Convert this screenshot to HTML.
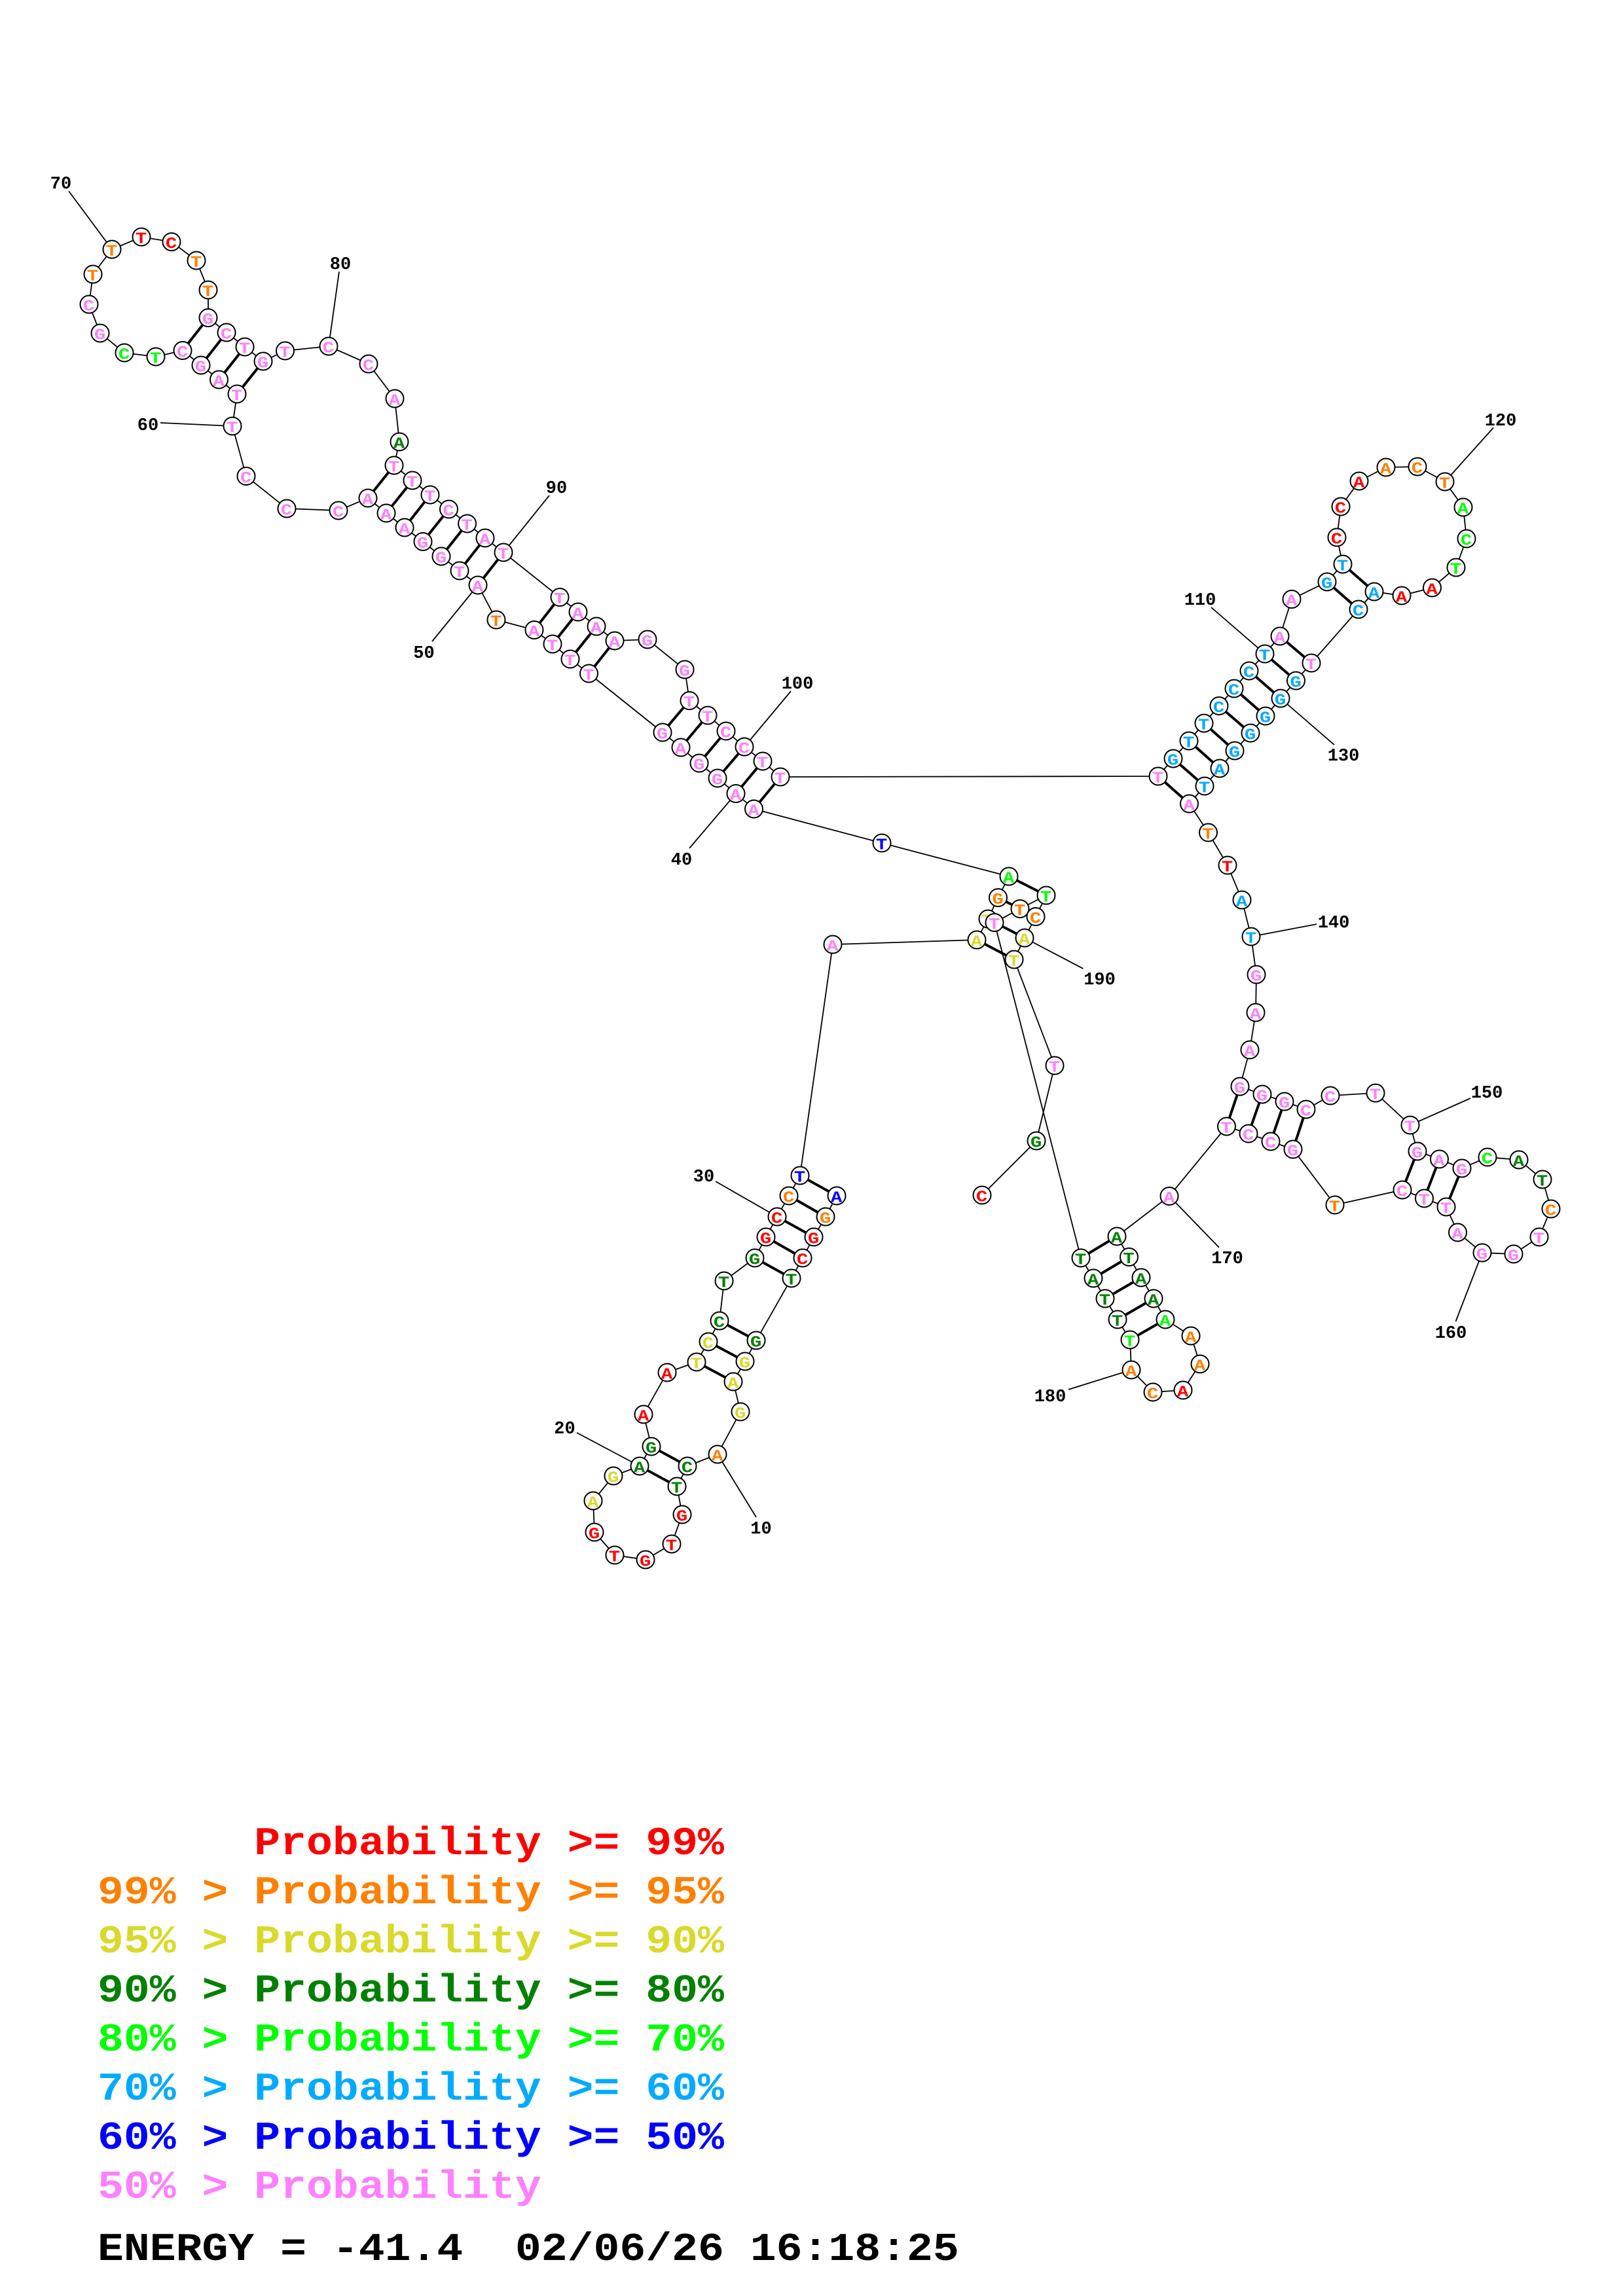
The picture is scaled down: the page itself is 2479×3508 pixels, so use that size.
<!DOCTYPE html>
<html><head><meta charset="utf-8"><style>
html,body{margin:0;padding:0;background:#fff}
svg{display:block}
.n circle{fill:#fff;stroke:#000;stroke-width:2}
.n text{font:bold 24.5px "Liberation Mono",monospace;text-anchor:middle;transform:translate(-.5px,9.5px) scale(1.18,1)}
.l{font:bold 27px "Liberation Mono",monospace;text-anchor:middle}
.k{font:bold 60px "Liberation Mono",monospace;white-space:pre}
.r{fill:#f00}.o{fill:#ff8000}.y{fill:#d9d92b}.d{fill:#008000}.g{fill:#0f0}.s{fill:#0af}.b{fill:#00f}.p{fill:#ff80ff}
</style></head><body>
<svg xmlns="http://www.w3.org/2000/svg" width="2479" height="3508" viewBox="0 0 2479 3508">
<rect width="2479" height="3508" fill="#fff"/>
<polyline fill="none" stroke="#000" stroke-width="1.8" points="1278,1827 1261,1859 1243,1890 1226,1922 1209,1953 1155,2048 1138,2080 1120,2111 1131,2157 1096,2222 1050,2240 1034,2271 1042,2314 1026,2359 986,2383 939,2376 908,2341 906,2293 937,2255 977,2240 995,2210 983,2161 1019,2097 1064,2081 1082,2050 1099,2018 1106,1957 1153,1922 1170,1890 1187,1859 1205,1827 1222,1796 1272,1443 1492,1436 1509,1404 1524.5,1371.5 1541,1339 1347,1288 1151.5,1236 1124,1212.5 1096,1189 1068,1166 1040,1142 1012,1119 899.5,1029 871,1007 844,984 816,962.5 758,947 730,894 702,872 674,850 646,827.5 618,806 590,784 562,761 517,780 438,777 376,727.5 355,651 362,602 334.5,580 307,558 279,535.5 238,545 190,539 153,509 136,465 142,419 171,381 216,362 262,369.5 300,398 318,443 318,485.5 346,508 374,530 402,552 435.5,536 502,529 563,556 603,609 610,675 602,711 630,734 657,756 685.5,778 713.6,800 741,822 769,844 855,912.5 883,935 911,957 939,979 989,977 1046,1023 1053,1070.5 1081,1093 1109,1117 1137,1141 1165,1163 1192,1187 1769,1186 1792,1159 1816,1132 1839,1105 1862,1078.5 1885,1052 1908,1025 1932,999 1955,972 1973,915.5 2027,889 2051,862 2042,821 2048,774 2076,735 2117,714 2165,713 2207,736 2235,775 2240,823 2224,867 2187.5,898 2141,910 2099,904 2075,931 2003,1013 1979.5,1040 1956,1067 1933,1094 1910,1120 1886,1147 1863,1174 1840,1201 1816.5,1228 1845.5,1272 1875,1322 1897,1375 1911,1431 1919,1489 1918,1547 1909,1604 1894,1660 1928,1672 1962,1683 1995,1695 2032,1674 2101,1670 2154,1719 2165,1759 2198.5,1771 2233,1785 2272,1768 2320,1772 2356,1802 2369,1847 2351,1890 2312,1916 2264,1914 2226.5,1883 2209,1844 2175.5,1831 2142,1818 2039,1841 1975,1756 1941,1744 1907,1732 1873.5,1721 1786,1827.5 1706,1889 1724.5,1920.5 1743,1952 1762,1984 1780,2016 1819,2041 1833,2084 1807,2124 1761,2127 1728,2093 1726,2047 1707,2016 1688,1984 1670,1953 1651,1922 1519,1409.5 1558,1388.5 1598,1368 1582,1400.5 1565,1433 1549,1466 1611,1628 1583,1743 1500,1826"/>
<path fill="none" stroke="#000" stroke-width="1.8" d="M1096,2222L1155,2318M977,2240L881,2189M1187,1859L1093,1805M1124,1212.5L1053,1296M730,894L660,980M355,651L245,646M171,381L105,292M502,529L518,415M769,844L839,757M1137,1141L1208,1056M1932,999L1850,928M2207,736L2281,653.5M1956,1067L2038,1138M1911,1431L2011,1412M2154,1719L2246,1678M2264,1914L2223.5,2019M1786,1827.5L1862,1906M1728,2093L1632,2123M1565,1433L1654.5,1480"/>
<path fill="none" stroke="#000" stroke-width="4" d="M1278,1827L1222,1796M1261,1859L1205,1827M1243,1890L1187,1859M1226,1922L1170,1890M1209,1953L1153,1922M1155,2048L1099,2018M1138,2080L1082,2050M1120,2111L1064,2081M1050,2240L995,2210M1034,2271L977,2240M1492,1436L1549,1466M1509,1404L1565,1433M1524.5,1371.5L1582,1400.5M1541,1339L1598,1368M1151.5,1236L1192,1187M1124,1212.5L1165,1163M1096,1189L1137,1141M1068,1166L1109,1117M1040,1142L1081,1093M1012,1119L1053,1070.5M899.5,1029L939,979M871,1007L911,957M844,984L883,935M816,962.5L855,912.5M730,894L769,844M702,872L741,822M674,850L713.6,800M646,827.5L685.5,778M618,806L657,756M590,784L630,734M562,761L602,711M362,602L402,552M334.5,580L374,530M307,558L346,508M279,535.5L318,485.5M1769,1186L1816.5,1228M1792,1159L1840,1201M1816,1132L1863,1174M1839,1105L1886,1147M1862,1078.5L1910,1120M1885,1052L1933,1094M1908,1025L1956,1067M1932,999L1979.5,1040M1955,972L2003,1013M2027,889L2075,931M2051,862L2099,904M1894,1660L1873.5,1721M1928,1672L1907,1732M1962,1683L1941,1744M1995,1695L1975,1756M2165,1759L2142,1818M2198.5,1771L2175.5,1831M2233,1785L2209,1844M1706,1889L1651,1922M1724.5,1920.5L1670,1953M1743,1952L1688,1984M1762,1984L1707,2016M1780,2016L1726,2047"/>
<g class="n">
<g class="b" transform="translate(1278,1827)"><circle r="13.5"/><text>A</text></g>
<g class="o" transform="translate(1261,1859)"><circle r="13.5"/><text>G</text></g>
<g class="r" transform="translate(1243,1890)"><circle r="13.5"/><text>G</text></g>
<g class="r" transform="translate(1226,1922)"><circle r="13.5"/><text>C</text></g>
<g class="d" transform="translate(1209,1953)"><circle r="13.5"/><text>T</text></g>
<g class="d" transform="translate(1155,2048)"><circle r="13.5"/><text>G</text></g>
<g class="y" transform="translate(1138,2080)"><circle r="13.5"/><text>G</text></g>
<g class="y" transform="translate(1120,2111)"><circle r="13.5"/><text>A</text></g>
<g class="y" transform="translate(1131,2157)"><circle r="13.5"/><text>G</text></g>
<g class="o" transform="translate(1096,2222)"><circle r="13.5"/><text>A</text></g>
<g class="d" transform="translate(1050,2240)"><circle r="13.5"/><text>C</text></g>
<g class="d" transform="translate(1034,2271)"><circle r="13.5"/><text>T</text></g>
<g class="r" transform="translate(1042,2314)"><circle r="13.5"/><text>G</text></g>
<g class="r" transform="translate(1026,2359)"><circle r="13.5"/><text>T</text></g>
<g class="r" transform="translate(986,2383)"><circle r="13.5"/><text>G</text></g>
<g class="r" transform="translate(939,2376)"><circle r="13.5"/><text>T</text></g>
<g class="r" transform="translate(908,2341)"><circle r="13.5"/><text>G</text></g>
<g class="y" transform="translate(906,2293)"><circle r="13.5"/><text>A</text></g>
<g class="y" transform="translate(937,2255)"><circle r="13.5"/><text>G</text></g>
<g class="d" transform="translate(977,2240)"><circle r="13.5"/><text>A</text></g>
<g class="d" transform="translate(995,2210)"><circle r="13.5"/><text>G</text></g>
<g class="r" transform="translate(983,2161)"><circle r="13.5"/><text>A</text></g>
<g class="r" transform="translate(1019,2097)"><circle r="13.5"/><text>A</text></g>
<g class="y" transform="translate(1064,2081)"><circle r="13.5"/><text>T</text></g>
<g class="y" transform="translate(1082,2050)"><circle r="13.5"/><text>C</text></g>
<g class="d" transform="translate(1099,2018)"><circle r="13.5"/><text>C</text></g>
<g class="d" transform="translate(1106,1957)"><circle r="13.5"/><text>T</text></g>
<g class="d" transform="translate(1153,1922)"><circle r="13.5"/><text>G</text></g>
<g class="r" transform="translate(1170,1890)"><circle r="13.5"/><text>G</text></g>
<g class="r" transform="translate(1187,1859)"><circle r="13.5"/><text>C</text></g>
<g class="o" transform="translate(1205,1827)"><circle r="13.5"/><text>C</text></g>
<g class="b" transform="translate(1222,1796)"><circle r="13.5"/><text>T</text></g>
<g class="p" transform="translate(1272,1443)"><circle r="13.5"/><text>A</text></g>
<g class="y" transform="translate(1492,1436)"><circle r="13.5"/><text>A</text></g>
<g class="y" transform="translate(1509,1404)"><circle r="13.5"/><text>T</text></g>
<g class="o" transform="translate(1524.5,1371.5)"><circle r="13.5"/><text>G</text></g>
<g class="g" transform="translate(1541,1339)"><circle r="13.5"/><text>A</text></g>
<g class="b" transform="translate(1347,1288)"><circle r="13.5"/><text>T</text></g>
<g class="p" transform="translate(1151.5,1236)"><circle r="13.5"/><text>A</text></g>
<g class="p" transform="translate(1124,1212.5)"><circle r="13.5"/><text>A</text></g>
<g class="p" transform="translate(1096,1189)"><circle r="13.5"/><text>G</text></g>
<g class="p" transform="translate(1068,1166)"><circle r="13.5"/><text>G</text></g>
<g class="p" transform="translate(1040,1142)"><circle r="13.5"/><text>A</text></g>
<g class="p" transform="translate(1012,1119)"><circle r="13.5"/><text>G</text></g>
<g class="p" transform="translate(899.5,1029)"><circle r="13.5"/><text>T</text></g>
<g class="p" transform="translate(871,1007)"><circle r="13.5"/><text>T</text></g>
<g class="p" transform="translate(844,984)"><circle r="13.5"/><text>T</text></g>
<g class="p" transform="translate(816,962.5)"><circle r="13.5"/><text>A</text></g>
<g class="o" transform="translate(758,947)"><circle r="13.5"/><text>T</text></g>
<g class="p" transform="translate(730,894)"><circle r="13.5"/><text>A</text></g>
<g class="p" transform="translate(702,872)"><circle r="13.5"/><text>T</text></g>
<g class="p" transform="translate(674,850)"><circle r="13.5"/><text>G</text></g>
<g class="p" transform="translate(646,827.5)"><circle r="13.5"/><text>G</text></g>
<g class="p" transform="translate(618,806)"><circle r="13.5"/><text>A</text></g>
<g class="p" transform="translate(590,784)"><circle r="13.5"/><text>A</text></g>
<g class="p" transform="translate(562,761)"><circle r="13.5"/><text>A</text></g>
<g class="p" transform="translate(517,780)"><circle r="13.5"/><text>C</text></g>
<g class="p" transform="translate(438,777)"><circle r="13.5"/><text>C</text></g>
<g class="p" transform="translate(376,727.5)"><circle r="13.5"/><text>C</text></g>
<g class="p" transform="translate(355,651)"><circle r="13.5"/><text>T</text></g>
<g class="p" transform="translate(362,602)"><circle r="13.5"/><text>T</text></g>
<g class="p" transform="translate(334.5,580)"><circle r="13.5"/><text>A</text></g>
<g class="p" transform="translate(307,558)"><circle r="13.5"/><text>G</text></g>
<g class="p" transform="translate(279,535.5)"><circle r="13.5"/><text>C</text></g>
<g class="g" transform="translate(238,545)"><circle r="13.5"/><text>T</text></g>
<g class="g" transform="translate(190,539)"><circle r="13.5"/><text>C</text></g>
<g class="p" transform="translate(153,509)"><circle r="13.5"/><text>G</text></g>
<g class="p" transform="translate(136,465)"><circle r="13.5"/><text>C</text></g>
<g class="o" transform="translate(142,419)"><circle r="13.5"/><text>T</text></g>
<g class="o" transform="translate(171,381)"><circle r="13.5"/><text>T</text></g>
<g class="r" transform="translate(216,362)"><circle r="13.5"/><text>T</text></g>
<g class="r" transform="translate(262,369.5)"><circle r="13.5"/><text>C</text></g>
<g class="o" transform="translate(300,398)"><circle r="13.5"/><text>T</text></g>
<g class="o" transform="translate(318,443)"><circle r="13.5"/><text>T</text></g>
<g class="p" transform="translate(318,485.5)"><circle r="13.5"/><text>G</text></g>
<g class="p" transform="translate(346,508)"><circle r="13.5"/><text>C</text></g>
<g class="p" transform="translate(374,530)"><circle r="13.5"/><text>T</text></g>
<g class="p" transform="translate(402,552)"><circle r="13.5"/><text>G</text></g>
<g class="p" transform="translate(435.5,536)"><circle r="13.5"/><text>T</text></g>
<g class="p" transform="translate(502,529)"><circle r="13.5"/><text>C</text></g>
<g class="p" transform="translate(563,556)"><circle r="13.5"/><text>C</text></g>
<g class="p" transform="translate(603,609)"><circle r="13.5"/><text>A</text></g>
<g class="d" transform="translate(610,675)"><circle r="13.5"/><text>A</text></g>
<g class="p" transform="translate(602,711)"><circle r="13.5"/><text>T</text></g>
<g class="p" transform="translate(630,734)"><circle r="13.5"/><text>T</text></g>
<g class="p" transform="translate(657,756)"><circle r="13.5"/><text>T</text></g>
<g class="p" transform="translate(685.5,778)"><circle r="13.5"/><text>C</text></g>
<g class="p" transform="translate(713.6,800)"><circle r="13.5"/><text>T</text></g>
<g class="p" transform="translate(741,822)"><circle r="13.5"/><text>A</text></g>
<g class="p" transform="translate(769,844)"><circle r="13.5"/><text>T</text></g>
<g class="p" transform="translate(855,912.5)"><circle r="13.5"/><text>T</text></g>
<g class="p" transform="translate(883,935)"><circle r="13.5"/><text>A</text></g>
<g class="p" transform="translate(911,957)"><circle r="13.5"/><text>A</text></g>
<g class="p" transform="translate(939,979)"><circle r="13.5"/><text>A</text></g>
<g class="p" transform="translate(989,977)"><circle r="13.5"/><text>G</text></g>
<g class="p" transform="translate(1046,1023)"><circle r="13.5"/><text>G</text></g>
<g class="p" transform="translate(1053,1070.5)"><circle r="13.5"/><text>T</text></g>
<g class="p" transform="translate(1081,1093)"><circle r="13.5"/><text>T</text></g>
<g class="p" transform="translate(1109,1117)"><circle r="13.5"/><text>C</text></g>
<g class="p" transform="translate(1137,1141)"><circle r="13.5"/><text>C</text></g>
<g class="p" transform="translate(1165,1163)"><circle r="13.5"/><text>T</text></g>
<g class="p" transform="translate(1192,1187)"><circle r="13.5"/><text>T</text></g>
<g class="p" transform="translate(1769,1186)"><circle r="13.5"/><text>T</text></g>
<g class="s" transform="translate(1792,1159)"><circle r="13.5"/><text>G</text></g>
<g class="s" transform="translate(1816,1132)"><circle r="13.5"/><text>T</text></g>
<g class="s" transform="translate(1839,1105)"><circle r="13.5"/><text>T</text></g>
<g class="s" transform="translate(1862,1078.5)"><circle r="13.5"/><text>C</text></g>
<g class="s" transform="translate(1885,1052)"><circle r="13.5"/><text>C</text></g>
<g class="s" transform="translate(1908,1025)"><circle r="13.5"/><text>C</text></g>
<g class="s" transform="translate(1932,999)"><circle r="13.5"/><text>T</text></g>
<g class="p" transform="translate(1955,972)"><circle r="13.5"/><text>A</text></g>
<g class="p" transform="translate(1973,915.5)"><circle r="13.5"/><text>A</text></g>
<g class="s" transform="translate(2027,889)"><circle r="13.5"/><text>G</text></g>
<g class="s" transform="translate(2051,862)"><circle r="13.5"/><text>T</text></g>
<g class="r" transform="translate(2042,821)"><circle r="13.5"/><text>C</text></g>
<g class="r" transform="translate(2048,774)"><circle r="13.5"/><text>C</text></g>
<g class="r" transform="translate(2076,735)"><circle r="13.5"/><text>A</text></g>
<g class="o" transform="translate(2117,714)"><circle r="13.5"/><text>A</text></g>
<g class="o" transform="translate(2165,713)"><circle r="13.5"/><text>C</text></g>
<g class="o" transform="translate(2207,736)"><circle r="13.5"/><text>T</text></g>
<g class="g" transform="translate(2235,775)"><circle r="13.5"/><text>A</text></g>
<g class="g" transform="translate(2240,823)"><circle r="13.5"/><text>C</text></g>
<g class="g" transform="translate(2224,867)"><circle r="13.5"/><text>T</text></g>
<g class="r" transform="translate(2187.5,898)"><circle r="13.5"/><text>A</text></g>
<g class="r" transform="translate(2141,910)"><circle r="13.5"/><text>A</text></g>
<g class="s" transform="translate(2099,904)"><circle r="13.5"/><text>A</text></g>
<g class="s" transform="translate(2075,931)"><circle r="13.5"/><text>C</text></g>
<g class="p" transform="translate(2003,1013)"><circle r="13.5"/><text>T</text></g>
<g class="s" transform="translate(1979.5,1040)"><circle r="13.5"/><text>G</text></g>
<g class="s" transform="translate(1956,1067)"><circle r="13.5"/><text>G</text></g>
<g class="s" transform="translate(1933,1094)"><circle r="13.5"/><text>G</text></g>
<g class="s" transform="translate(1910,1120)"><circle r="13.5"/><text>G</text></g>
<g class="s" transform="translate(1886,1147)"><circle r="13.5"/><text>G</text></g>
<g class="s" transform="translate(1863,1174)"><circle r="13.5"/><text>A</text></g>
<g class="s" transform="translate(1840,1201)"><circle r="13.5"/><text>T</text></g>
<g class="p" transform="translate(1816.5,1228)"><circle r="13.5"/><text>A</text></g>
<g class="o" transform="translate(1845.5,1272)"><circle r="13.5"/><text>T</text></g>
<g class="r" transform="translate(1875,1322)"><circle r="13.5"/><text>T</text></g>
<g class="s" transform="translate(1897,1375)"><circle r="13.5"/><text>A</text></g>
<g class="s" transform="translate(1911,1431)"><circle r="13.5"/><text>T</text></g>
<g class="p" transform="translate(1919,1489)"><circle r="13.5"/><text>G</text></g>
<g class="p" transform="translate(1918,1547)"><circle r="13.5"/><text>A</text></g>
<g class="p" transform="translate(1909,1604)"><circle r="13.5"/><text>A</text></g>
<g class="p" transform="translate(1894,1660)"><circle r="13.5"/><text>G</text></g>
<g class="p" transform="translate(1928,1672)"><circle r="13.5"/><text>G</text></g>
<g class="p" transform="translate(1962,1683)"><circle r="13.5"/><text>G</text></g>
<g class="p" transform="translate(1995,1695)"><circle r="13.5"/><text>C</text></g>
<g class="p" transform="translate(2032,1674)"><circle r="13.5"/><text>C</text></g>
<g class="p" transform="translate(2101,1670)"><circle r="13.5"/><text>T</text></g>
<g class="p" transform="translate(2154,1719)"><circle r="13.5"/><text>T</text></g>
<g class="p" transform="translate(2165,1759)"><circle r="13.5"/><text>G</text></g>
<g class="p" transform="translate(2198.5,1771)"><circle r="13.5"/><text>A</text></g>
<g class="p" transform="translate(2233,1785)"><circle r="13.5"/><text>G</text></g>
<g class="g" transform="translate(2272,1768)"><circle r="13.5"/><text>C</text></g>
<g class="d" transform="translate(2320,1772)"><circle r="13.5"/><text>A</text></g>
<g class="d" transform="translate(2356,1802)"><circle r="13.5"/><text>T</text></g>
<g class="o" transform="translate(2369,1847)"><circle r="13.5"/><text>C</text></g>
<g class="p" transform="translate(2351,1890)"><circle r="13.5"/><text>T</text></g>
<g class="p" transform="translate(2312,1916)"><circle r="13.5"/><text>G</text></g>
<g class="p" transform="translate(2264,1914)"><circle r="13.5"/><text>G</text></g>
<g class="p" transform="translate(2226.5,1883)"><circle r="13.5"/><text>A</text></g>
<g class="p" transform="translate(2209,1844)"><circle r="13.5"/><text>T</text></g>
<g class="p" transform="translate(2175.5,1831)"><circle r="13.5"/><text>T</text></g>
<g class="p" transform="translate(2142,1818)"><circle r="13.5"/><text>C</text></g>
<g class="o" transform="translate(2039,1841)"><circle r="13.5"/><text>T</text></g>
<g class="p" transform="translate(1975,1756)"><circle r="13.5"/><text>G</text></g>
<g class="p" transform="translate(1941,1744)"><circle r="13.5"/><text>C</text></g>
<g class="p" transform="translate(1907,1732)"><circle r="13.5"/><text>C</text></g>
<g class="p" transform="translate(1873.5,1721)"><circle r="13.5"/><text>T</text></g>
<g class="p" transform="translate(1786,1827.5)"><circle r="13.5"/><text>A</text></g>
<g class="d" transform="translate(1706,1889)"><circle r="13.5"/><text>A</text></g>
<g class="d" transform="translate(1724.5,1920.5)"><circle r="13.5"/><text>T</text></g>
<g class="d" transform="translate(1743,1952)"><circle r="13.5"/><text>A</text></g>
<g class="d" transform="translate(1762,1984)"><circle r="13.5"/><text>A</text></g>
<g class="g" transform="translate(1780,2016)"><circle r="13.5"/><text>A</text></g>
<g class="o" transform="translate(1819,2041)"><circle r="13.5"/><text>A</text></g>
<g class="o" transform="translate(1833,2084)"><circle r="13.5"/><text>A</text></g>
<g class="r" transform="translate(1807,2124)"><circle r="13.5"/><text>A</text></g>
<g class="o" transform="translate(1761,2127)"><circle r="13.5"/><text>C</text></g>
<g class="o" transform="translate(1728,2093)"><circle r="13.5"/><text>A</text></g>
<g class="g" transform="translate(1726,2047)"><circle r="13.5"/><text>T</text></g>
<g class="d" transform="translate(1707,2016)"><circle r="13.5"/><text>T</text></g>
<g class="d" transform="translate(1688,1984)"><circle r="13.5"/><text>T</text></g>
<g class="d" transform="translate(1670,1953)"><circle r="13.5"/><text>A</text></g>
<g class="d" transform="translate(1651,1922)"><circle r="13.5"/><text>T</text></g>
<g class="p" transform="translate(1519,1409.5)"><circle r="13.5"/><text>T</text></g>
<g class="o" transform="translate(1558,1388.5)"><circle r="13.5"/><text>T</text></g>
<g class="g" transform="translate(1598,1368)"><circle r="13.5"/><text>T</text></g>
<g class="o" transform="translate(1582,1400.5)"><circle r="13.5"/><text>C</text></g>
<g class="y" transform="translate(1565,1433)"><circle r="13.5"/><text>A</text></g>
<g class="y" transform="translate(1549,1466)"><circle r="13.5"/><text>T</text></g>
<g class="p" transform="translate(1611,1628)"><circle r="13.5"/><text>T</text></g>
<g class="d" transform="translate(1583,1743)"><circle r="13.5"/><text>G</text></g>
<g class="r" transform="translate(1500,1826)"><circle r="13.5"/><text>C</text></g>
</g>
<g fill="#000">
<text class="l" x="1162.5" y="2343">10</text>
<text class="l" x="862.5" y="2190">20</text>
<text class="l" x="1075" y="1805">30</text>
<text class="l" x="1041" y="1321">40</text>
<text class="l" x="647.5" y="1005">50</text>
<text class="l" x="226" y="657">60</text>
<text class="l" x="93" y="288">70</text>
<text class="l" x="520" y="411">80</text>
<text class="l" x="850" y="753">90</text>
<text class="l" x="1218" y="1052">100</text>
<text class="l" x="1833" y="924">110</text>
<text class="l" x="2292" y="650">120</text>
<text class="l" x="2052" y="1162">130</text>
<text class="l" x="2037" y="1417">140</text>
<text class="l" x="2271" y="1677">150</text>
<text class="l" x="2216" y="2044">160</text>
<text class="l" x="1874.5" y="1930">170</text>
<text class="l" x="1604" y="2141">180</text>
<text class="l" x="1679.5" y="1504">190</text>
</g>
<text class="k r" transform="translate(149,2833) scale(1.1075,1)">      Probability &gt;= 99%</text>
<text class="k o" transform="translate(149,2908) scale(1.1075,1)">99% &gt; Probability &gt;= 95%</text>
<text class="k y" transform="translate(149,2983) scale(1.1075,1)">95% &gt; Probability &gt;= 90%</text>
<text class="k d" transform="translate(149,3058) scale(1.1075,1)">90% &gt; Probability &gt;= 80%</text>
<text class="k g" transform="translate(149,3133) scale(1.1075,1)">80% &gt; Probability &gt;= 70%</text>
<text class="k s" transform="translate(149,3208) scale(1.1075,1)">70% &gt; Probability &gt;= 60%</text>
<text class="k b" transform="translate(149,3283) scale(1.1075,1)">60% &gt; Probability &gt;= 50%</text>
<text class="k p" transform="translate(149,3358) scale(1.1075,1)">50% &gt; Probability</text>
<text class="k" fill="#000" transform="translate(149,3453) scale(1.1075,1)">ENERGY = -41.4  02/06/26 16:18:25</text>
</svg>
</body></html>
